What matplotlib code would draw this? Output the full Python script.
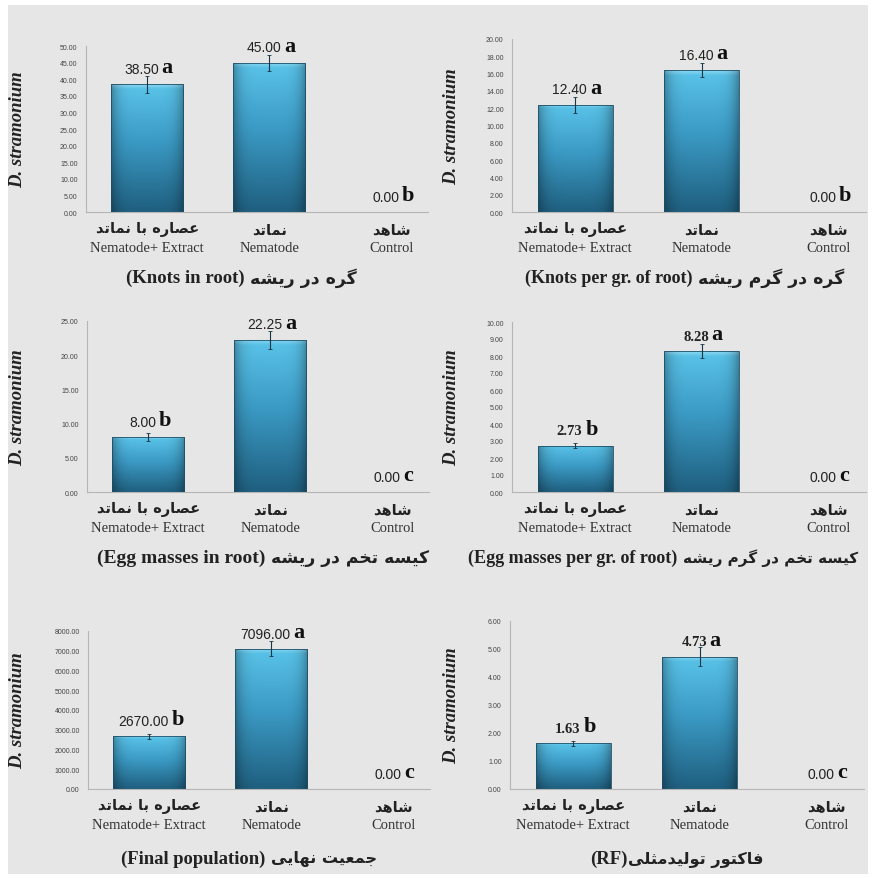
import numpy as np
import matplotlib
matplotlib.use('Agg')
import matplotlib.pyplot as plt
from matplotlib.patches import Rectangle
from matplotlib.colors import to_rgb

# ---- data ----
cat_fa = ['عصاره با نماتد', 'نماتد', 'شاهد']
cat_en = ['Nematode+ Extract', 'Nematode', 'Control']

knots = [38.50, 45.00, 0.00]
knots_err = [2.6, 2.4, 0]
knots_let = ['a', 'a', 'b']

knots_gr = [12.40, 16.40, 0.00]
knots_gr_err = [0.9, 0.8, 0]
knots_gr_let = ['a', 'a', 'b']

eggs = [8.00, 22.25, 0.00]
eggs_err = [0.6, 1.3, 0]
eggs_let = ['b', 'a', 'c']

eggs_gr = [2.73, 8.28, 0.00]
eggs_gr_err = [0.15, 0.4, 0]
eggs_gr_let = ['b', 'a', 'c']

final_pop = [2670.00, 7096.00, 0.00]
final_pop_err = [120, 380, 0]
final_pop_let = ['b', 'a', 'c']

rf = [1.63, 4.73, 0.00]
rf_err = [0.1, 0.35, 0]
rf_let = ['b', 'a', 'c']

title_en = ['(Knots in root)', '(Knots per gr. of root)', '(Egg masses in root)',
            '(Egg masses per gr. of root)', '(Final population)', '(RF)']
title_fa = ['گره در ریشه', 'گره در گرم ریشه', 'کیسه تخم در ریشه',
            'کیسه تخم در گرم ریشه', 'جمعیت نهایی', 'فاکتور تولیدمثلی']

# ---- simple persian shaping (matplotlib has no bidi) ----
FORMS = {
    'ا': (0xFE8D, 0xFE8E, None, None),
    'ب': (0xFE8F, 0xFE90, 0xFE91, 0xFE92),
    'ت': (0xFE95, 0xFE96, 0xFE97, 0xFE98),
    'ث': (0xFE99, 0xFE9A, 0xFE9B, 0xFE9C),
    'ج': (0xFE9D, 0xFE9E, 0xFE9F, 0xFEA0),
    'خ': (0xFEA5, 0xFEA6, 0xFEA7, 0xFEA8),
    'د': (0xFEA9, 0xFEAA, None, None),
    'ر': (0xFEAD, 0xFEAE, None, None),
    'س': (0xFEB1, 0xFEB2, 0xFEB3, 0xFEB4),
    'ش': (0xFEB5, 0xFEB6, 0xFEB7, 0xFEB8),
    'ص': (0xFEB9, 0xFEBA, 0xFEBB, 0xFEBC),
    'ع': (0xFEC9, 0xFECA, 0xFECB, 0xFECC),
    'ف': (0xFED1, 0xFED2, 0xFED3, 0xFED4),
    '\u06a9': (0xFB8E, 0xFB8F, 0xFB90, 0xFB91),
    'گ': (0xFB92, 0xFB93, 0xFB94, 0xFB95),
    'ل': (0xFEDD, 0xFEDE, 0xFEDF, 0xFEE0),
    'م': (0xFEE1, 0xFEE2, 0xFEE3, 0xFEE4),
    'ن': (0xFEE5, 0xFEE6, 0xFEE7, 0xFEE8),
    'ه': (0xFEE9, 0xFEEA, 0xFEEB, 0xFEEC),
    'و': (0xFEED, 0xFEEE, None, None),
    '\u06cc': (0xFBFC, 0xFBFD, 0xFBFE, 0xFBFF),
}


def fa(s):
    s = s.replace('\u064a', '\u06cc').replace('\u0643', '\u06a9')
    out = []
    for i, c in enumerate(s):
        if c not in FORMS:
            out.append(c)
            continue
        f = FORMS[c]
        prev = s[i - 1] if i > 0 else ''
        nxt = s[i + 1] if i + 1 < len(s) else ''
        jp = prev in FORMS and FORMS[prev][2] is not None
        jn = nxt in FORMS and f[2] is not None
        if jp and jn:
            g = f[3]
        elif jp:
            g = f[1]
        elif jn:
            g = f[2]
        else:
            g = f[0]
        out.append(chr(g))
    return ''.join(reversed(out))


panels = [
    (knots, knots_err, knots_let, 50, 5),
    (knots_gr, knots_gr_err, knots_gr_let, 20, 2),
    (eggs, eggs_err, eggs_let, 25, 5),
    (eggs_gr, eggs_gr_err, eggs_gr_let, 10, 1),
    (final_pop, final_pop_err, final_pop_let, 8000, 1000),
    (rf, rf_err, rf_let, 6, 1),
]

# axes boxes in pixels: left, top, right, bottom
boxes = [
    (86, 47, 428, 213),
    (512, 40, 866, 213),
    (87, 322, 429, 493),
    (512, 323, 866, 493),
    (88, 632, 430, 790),
    (510, 622, 864, 790),
]
# caption: x of the latin/persian junction (px), distance below axis (pt), font sizes
title_x = [247, 695, 268, 680, 268, 628]
title_dy = [-47, -47, -47, -47, -50, -50]
title_en_size = [13.5, 13, 14, 13, 13.4, 13.5]
title_fa_size = [12.5, 12.5, 12.3, 11, 11.6, 11.6]
value_serif = [False, False, False, True, False, True]

W, H = 873, 879
SERIF = ['Liberation Serif', 'DejaVu Sans']
SANS = ['Liberation Sans', 'DejaVu Sans']
FA = ['DejaVu Sans']

fig = plt.figure(figsize=(W / 100, H / 100), dpi=100)
fig.patch.set_facecolor('white')
fig.patches.append(Rectangle((8 / W, 4 / H), 860 / W, 869 / H, transform=fig.transFigure,
                             facecolor='#e6e6e6', edgecolor='none', zorder=-10))

# gradient for bars
stops = [(0.0, '#8ad8f2'), (0.035, '#58c0e6'), (0.45, '#3b9ac4'), (1.0, '#1f5f7f')]
ny, nx = 120, 60
t = np.linspace(0, 1, ny)
cols = np.array([to_rgb(c) for _, c in stops])
pos = [p for p, _ in stops]
vert = np.stack([np.interp(t, pos, cols[:, k]) for k in range(3)], axis=1)
u = np.linspace(0, 1, nx)
shade = 1 - 0.3 * np.abs(2 * u - 1) ** 5
grad = vert[:, None, :] * shade[None, :, None]

x = np.arange(3)
for i, (vals, errs, lets, ymax, step) in enumerate(panels):
    l, tp, r, b = boxes[i]
    ax = fig.add_axes([l / W, 1 - b / H, (r - l) / W, (b - tp) / H])
    ax.patch.set_alpha(0)
    bars = ax.bar(x, vals, width=0.59, color='none', edgecolor='#1d4e66', linewidth=0.6, zorder=3)
    ax.set_xlim(-0.5, 2.3)
    ax.set_ylim(0, ymax)
    for bar in bars:
        if bar.get_height() <= 0:
            continue
        x0 = bar.get_x()
        im = ax.imshow(grad, extent=[x0, x0 + bar.get_width(), 0, bar.get_height()],
                       aspect='auto', zorder=2, interpolation='bilinear')
        im.set_clip_path(bar)
    ax.set_xlim(-0.5, 2.3)
    ax.set_ylim(0, ymax)
    ax.errorbar(x[:2], vals[:2], yerr=errs[:2], fmt='none', ecolor='#173545',
                elinewidth=0.8, capsize=1.5, capthick=0.6, zorder=4)

    for k in range(3):
        serif_val = value_serif[i] and vals[k] > 0
        txt = ax.annotate('%.2f' % vals[k], xy=(x[k], vals[k]), xytext=(-4, 6),
                          textcoords='offset points', ha='center', va='bottom',
                          fontsize=10.5 if serif_val else 10, family=SERIF if serif_val else SANS,
                          weight='bold' if serif_val else 'normal', color='#222222', zorder=5)
        ax.annotate(lets[k], xy=(1, 0), xycoords=txt, xytext=(2, -1),
                    textcoords='offset points', ha='left', va='bottom',
                    fontsize=16, family=SERIF, weight='bold', color='#111111')
        ax.annotate(fa(cat_fa[k]), xy=(x[k], 0), xycoords=('data', 'axes fraction'),
                    xytext=(0, -12), textcoords='offset points', ha='center', va='center',
                    fontsize=10.5, family=FA, weight='bold', color='#222222')
        ax.annotate(cat_en[k], xy=(x[k], 0), xycoords=('data', 'axes fraction'),
                    xytext=(0, -25.5), textcoords='offset points', ha='center', va='center',
                    fontsize=10.5, family=SERIF, color='#333333')

    # caption: latin part on the left, persian part on the right
    tx = (title_x[i] - l) / (r - l)
    gap = 0 if i == 5 else 2
    ax.annotate(title_en[i], xy=(tx, 0), xycoords='axes fraction', xytext=(-gap, title_dy[i]),
                textcoords='offset points', ha='right', va='center',
                fontsize=title_en_size[i], family=SERIF, weight='bold', color='#222222')
    ax.annotate(fa(title_fa[i]), xy=(tx, 0), xycoords='axes fraction', xytext=(gap, title_dy[i]),
                textcoords='offset points', ha='left', va='center',
                fontsize=title_fa_size[i], family=FA, weight='bold', color='#222222')

    ticks = np.arange(0, ymax + step / 2, step)
    ax.set_yticks(ticks)
    ax.set_yticklabels(['%.2f' % v for v in ticks], fontsize=5, family=SANS, color='#444444')
    ax.set_xticks([])
    ax.tick_params(axis='y', length=0, pad=6)
    for s in ['top', 'right']:
        ax.spines[s].set_visible(False)
    ax.spines['left'].set_color('#b5b5b5')
    ax.spines['bottom'].set_color('#b5b5b5')
    ax.spines['left'].set_linewidth(0.8)
    ax.spines['bottom'].set_linewidth(0.8)

    ax.set_ylabel('D. stramonium', fontsize=13.5, family=SERIF, weight='bold', style='italic', color='#222222')
    lx = 26 if i % 2 == 0 else 460
    ax.yaxis.set_label_coords((lx - l) / (r - l), 0.5)

fig.savefig('out.png', dpi=100)
